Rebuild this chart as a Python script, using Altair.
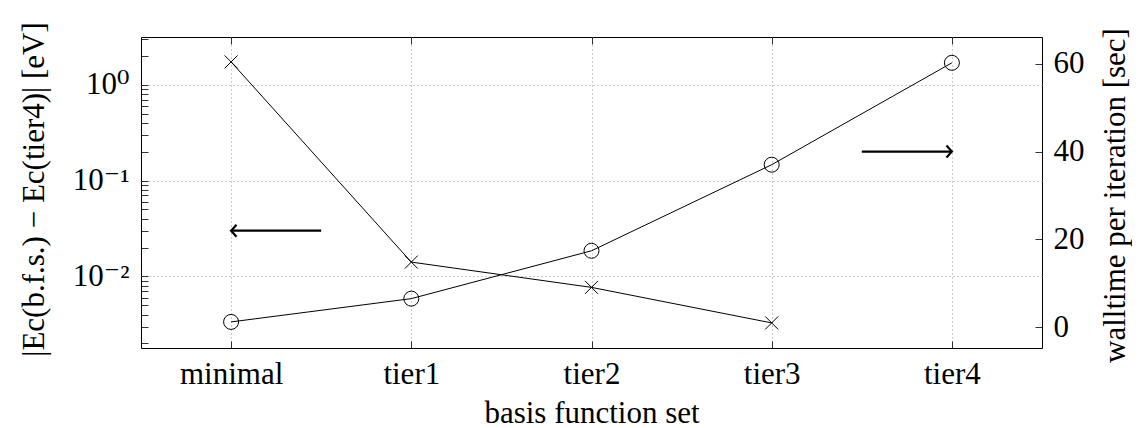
import altair as alt
import pandas as pd

# ---------------- data ----------------
categories = ["minimal", "tier1", "tier2", "tier3", "tier4"]
cat_index = [0, 1, 2, 3, 4]
# |E_c(b.f.s.) - E_c(tier4)| in eV  (minimal .. tier3)
energy_error_ev = [1.73, 0.0141, 0.00768, 0.00327]
# walltime per iteration in seconds (minimal .. tier4)
walltime_sec = [1.2, 6.5, 17.4, 37.0, 60.2]

log_major = [0.01, 0.1, 1.0]
log_minor = [0.002, 0.003, 0.004, 0.005, 0.006, 0.007, 0.008, 0.009,
             0.02, 0.03, 0.04, 0.05, 0.06, 0.07, 0.08, 0.09,
             0.2, 0.3, 0.4, 0.5, 0.6, 0.7, 0.8, 0.9, 2.0, 3.0]
right_ticks = [0, 20, 40, 60]

# annotation arrows (data coordinates)
arrow_left_x = [0.0, 0.5]
arrow_left_y = [0.03]
arrow_right_x = [3.5, 4.0]
arrow_right_y = [40]

FONT = "Liberation Serif, DejaVu Serif, serif"
FS = 31

df_err = pd.DataFrame({"idx": cat_index[:len(energy_error_ev)], "val": energy_error_ev})
df_wall = pd.DataFrame({"idx": cat_index, "val": walltime_sec})
df_al = pd.DataFrame({"idx": [arrow_left_x[0]], "idx2": [arrow_left_x[1]], "val": arrow_left_y})
df_ar = pd.DataFrame({"idx": [arrow_right_x[0]], "idx2": [arrow_right_x[1]], "val": arrow_right_y})
df_al_head = pd.DataFrame({"idx": [arrow_left_x[0]], "val": arrow_left_y})
df_ar_head = pd.DataFrame({"idx": [arrow_right_x[1]], "val": arrow_right_y})

x_scale = alt.Scale(domain=[-0.5, 4.5], nice=False, zero=False)
y_log_scale = alt.Scale(type="log", domain=[0.00179, 3.146], nice=False)
y_lin_scale = alt.Scale(domain=[-4.74, 66.08], nice=False, zero=False)

label_expr = "[" + ",".join("'%s'" % c for c in categories) + "][datum.value]"
log_label_expr = ("datum.value == 1 ? '10⁰' : datum.value == 0.1 ? '10⁻¹' : "
                  "datum.value == 0.01 ? '10⁻²' : ''")

common = dict(labelFont=FONT, labelFontSize=FS, labelColor="black",
              titleFont=FONT, titleFontSize=FS, titleFontWeight="normal",
              titleColor="black", domain=False, tickColor="black",
              tickWidth=0.8, tickSize=7, offset=-7)

x_bottom = alt.Axis(orient="bottom", values=cat_index, labelExpr=label_expr,
                    title="basis function set", grid=True, gridDash=[1, 3],
                    gridColor="#999999", labelPadding=35,
                    labelBaseline="alphabetic", labelOverlap=False,
                    titleY=81, titleBaseline="alphabetic", **common)
x_top = alt.Axis(orient="top", values=cat_index, labels=False, title=None,
                 grid=False, **common)

y_left = alt.Axis(orient="left", values=log_major + log_minor,
                  labelExpr=log_label_expr, labelOverlap=False, labelFlush=False,
                  grid=True, gridDash=[1, 3], gridColor="#999999",
                  gridOpacity={"condition": {"test": "datum.value == 1 || datum.value == 0.1 || datum.value == 0.01",
                                             "value": 1}, "value": 0},
                  labelPadding=12,
                  title="|Ec(b.f.s.) − Ec(tier4)| [eV]", titleAngle=270,
                  titleX=-105, titleY=152, titleBaseline="alphabetic", **common)
y_right = alt.Axis(orient="right", values=right_ticks, grid=False,
                   labelPadding=11, labelOverlap=False,
                   title="walltime per iteration [sec]", titleAngle=270,
                   titleX=89, titleY=158, titleBaseline="alphabetic", **common)

xb = alt.X("idx:Q", scale=x_scale, axis=x_bottom)
xt = alt.X("idx:Q", scale=x_scale, axis=x_top)
yl = alt.Y("val:Q", scale=y_log_scale, axis=y_left)
yr = alt.Y("val:Q", scale=y_lin_scale, axis=y_right)

cross_path = "M-1,-1L1,1M-1,1L1,-1"
head_left = "M0.9,-1 Q0.25,-0.25 0,0 Q0.25,0.25 0.9,1"
head_right = "M-0.9,-1 Q-0.25,-0.25 0,0 Q-0.25,0.25 -0.9,1"

err_line = alt.Chart(df_err).mark_line(color="black", strokeWidth=1).encode(x=xb, y=yl)
err_pts = alt.Chart(df_err).mark_point(shape=cross_path, filled=False, color="black",
                                       strokeWidth=1, size=169, opacity=1).encode(x=xb, y=yl)
al_rule = alt.Chart(df_al).mark_rule(color="black", strokeWidth=2.2).encode(
    x=xb, x2="idx2:Q", y=yl)
al_head = alt.Chart(df_al_head).mark_point(shape=head_left, filled=False, color="black",
                                           strokeWidth=2.2, size=144, opacity=1).encode(x=xb, y=yl)
left_layer = alt.layer(err_line, err_pts, al_rule, al_head)

wall_line = alt.Chart(df_wall).mark_line(color="black", strokeWidth=1).encode(x=xt, y=yr)
wall_pts = alt.Chart(df_wall).mark_point(shape="circle", filled=False, color="black",
                                         strokeWidth=1, size=225, opacity=1).encode(x=xt, y=yr)
ar_rule = alt.Chart(df_ar).mark_rule(color="black", strokeWidth=2.2).encode(
    x=xt, x2="idx2:Q", y=yr)
ar_head = alt.Chart(df_ar_head).mark_point(shape=head_right, filled=False, color="black",
                                           strokeWidth=2.2, size=144, opacity=1).encode(x=xt, y=yr)
right_layer = alt.layer(wall_line, wall_pts, ar_rule, ar_head)

chart = alt.layer(left_layer, right_layer).resolve_scale(
    y="independent"
).resolve_axis(
    x="independent", y="independent"
).properties(
    width=901, height=311,
    autosize=alt.AutoSizeParams(type="none"),
    padding={"left": 133, "top": 29, "right": 90, "bottom": 80},
    background="white",
).configure_view(stroke="black", strokeWidth=1)

chart.save("out.html", embed_options={"renderer": "svg", "actions": False})
